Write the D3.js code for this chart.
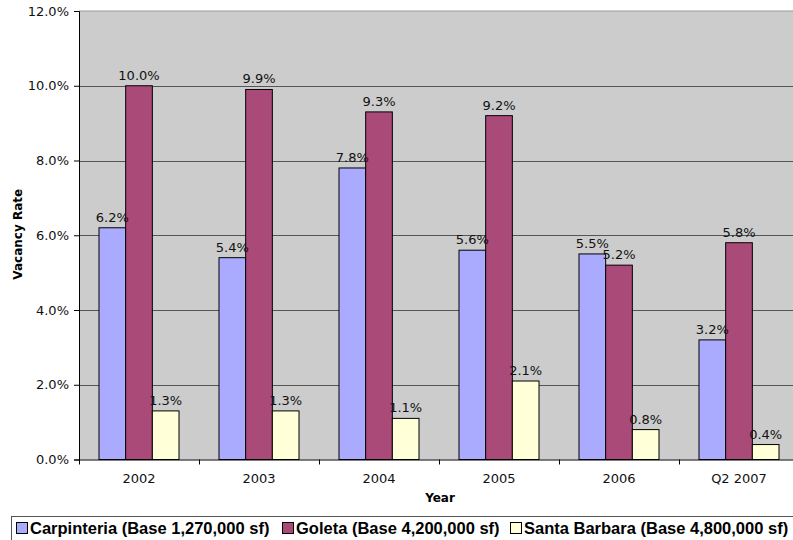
<!DOCTYPE html>
<html>
<head>
<meta charset="utf-8">
<script src="https://cdn.jsdelivr.net/npm/d3@7/dist/d3.min.js"></script>
<style>
  html, body { margin: 0; padding: 0; background: #fff; }
  svg { display: block; }
</style>
</head>
<body>
<svg id="chart" width="793" height="540"></svg>
<script>
// Office vacancy rates by submarket
const years = ["2002", "2003", "2004", "2005", "2006", "Q2 2007"];
const seriesNames = [
  "Carpinteria (Base 1,270,000 sf)",
  "Goleta (Base 4,200,000 sf)",
  "Santa Barbara (Base 4,800,000 sf)"
];
const carpinteria = [6.2, 5.4, 7.8, 5.6, 5.5, 3.2];
const goleta = [10.0, 9.9, 9.3, 9.2, 5.2, 5.8];
const santaBarbara = [1.3, 1.3, 1.1, 2.1, 0.8, 0.4];
const yTicks = [0, 2, 4, 6, 8, 10, 12];
const colors = ["#AAAAFF", "#AA4A78", "#FFFFD8"];

const seriesValues = [carpinteria, goleta, santaBarbara];

const svg = d3.select("#chart");
const plot = { left: 79, right: 799, top: 11, bottom: 459.5 };
const tickFont = "DejaVu Sans, Verdana, sans-serif";

const x = d3.scaleBand().domain(years).range([plot.left, plot.right]).paddingInner(0).paddingOuter(0);
const groupPad = x.bandwidth() / 6;
const xInner = d3.scaleBand().domain(d3.range(seriesNames.length))
  .range([groupPad, x.bandwidth() - groupPad]).padding(0);
const y = d3.scaleLinear().domain([0, 12]).range([plot.bottom, plot.top]);

// Plot background
svg.append("rect")
  .attr("x", plot.left).attr("y", plot.top)
  .attr("width", plot.right - plot.left).attr("height", plot.bottom - plot.top)
  .attr("fill", "#CCCCCC");

// Top border
svg.append("line")
  .attr("x1", plot.left).attr("x2", plot.right)
  .attr("y1", plot.top).attr("y2", plot.top)
  .attr("stroke", "#999").attr("stroke-width", 1);

// Gridlines
svg.append("g").selectAll("line")
  .data(yTicks.filter(d => d > 0 && d < 12))
  .join("line")
  .attr("x1", plot.left).attr("x2", plot.right)
  .attr("y1", d => Math.round(y(d)) + 0.5).attr("y2", d => Math.round(y(d)) + 0.5)
  .attr("stroke", "#555").attr("stroke-width", 1);

// Bars
const groups = svg.append("g").selectAll("g")
  .data(years)
  .join("g")
  .attr("transform", d => `translate(${x(d)},0)`);

groups.selectAll("rect")
  .data((d, i) => seriesValues.map((vals, s) => ({ s, v: vals[i] })))
  .join("rect")
  .attr("x", d => xInner(d.s))
  .attr("y", d => y(d.v))
  .attr("width", xInner.bandwidth())
  .attr("height", d => y(0) - y(d.v))
  .attr("fill", d => colors[d.s])
  .attr("stroke", "#000")
  .attr("stroke-width", 1);

groups.selectAll("text")
  .data((d, i) => seriesValues.map((vals, s) => ({ s, v: vals[i] })))
  .join("text")
  .attr("x", d => xInner(d.s) + xInner.bandwidth() / 2)
  .attr("y", d => y(d.v) - 6)
  .attr("text-anchor", "middle")
  .attr("font-family", tickFont)
  .attr("font-size", 13)
  .attr("fill", "#111")
  .text(d => d.v.toFixed(1) + "%");

// Y axis
const yAxis = d3.axisLeft(y).tickValues(yTicks).tickSize(5).tickPadding(5)
  .tickFormat(d => d.toFixed(1) + "%");
const gy = svg.append("g").attr("transform", `translate(${plot.left},0)`).call(yAxis);
gy.select(".domain").attr("stroke", "#000");
gy.selectAll(".tick line").attr("stroke", "#000");
gy.selectAll("text")
  .attr("font-family", tickFont)
  .attr("font-size", 13).attr("fill", "#111");

// X axis
const xAxis = d3.axisBottom(x).tickSize(0).tickPadding(14);
const gx = svg.append("g").attr("transform", `translate(0,${plot.bottom})`).call(xAxis);
gx.select(".domain").attr("stroke", "#000");
gx.selectAll("text")
  .attr("font-family", tickFont)
  .attr("font-size", 13).attr("fill", "#111");

// Category separator ticks
svg.append("g").selectAll("line")
  .data(years)
  .join("line")
  .attr("x1", d => x(d) + 0.5).attr("x2", d => x(d) + 0.5)
  .attr("y1", plot.bottom).attr("y2", plot.bottom + 5)
  .attr("stroke", "#000");

// Axis titles
svg.append("text")
  .attr("transform", `translate(22,${(plot.top + plot.bottom) / 2 - 1}) rotate(-90)`)
  .attr("text-anchor", "middle")
  .attr("font-family", tickFont)
  .attr("font-size", 12).attr("font-weight", "bold").attr("fill", "#000")
  .text("Vacancy Rate");

svg.append("text")
  .attr("x", 440).attr("y", 502)
  .attr("text-anchor", "middle")
  .attr("font-family", tickFont)
  .attr("font-size", 12).attr("font-weight", "bold").attr("fill", "#000")
  .text("Year");

// Legend
const legend = svg.append("g");
legend.append("rect")
  .attr("x", 11.5).attr("y", 516.5).attr("width", 800).attr("height", 30)
  .attr("fill", "#fff").attr("stroke", "#555").attr("stroke-width", 1);

const legendX = [16, 282, 510];
const items = legend.selectAll("g.item")
  .data(seriesNames)
  .join("g")
  .attr("class", "item")
  .attr("transform", (d, i) => `translate(${legendX[i]},0)`);
items.append("rect")
  .attr("x", 0.5).attr("y", 522.5).attr("width", 11).attr("height", 11)
  .attr("fill", (d, i) => colors[i]).attr("stroke", "#000");
items.append("text")
  .attr("x", 14).attr("y", 534)
  .attr("font-family", "Liberation Sans, Arial, sans-serif")
  .attr("font-size", 16.5).attr("font-weight", "bold").attr("fill", "#000")
  .text(d => d);
</script>
</body>
</html>
